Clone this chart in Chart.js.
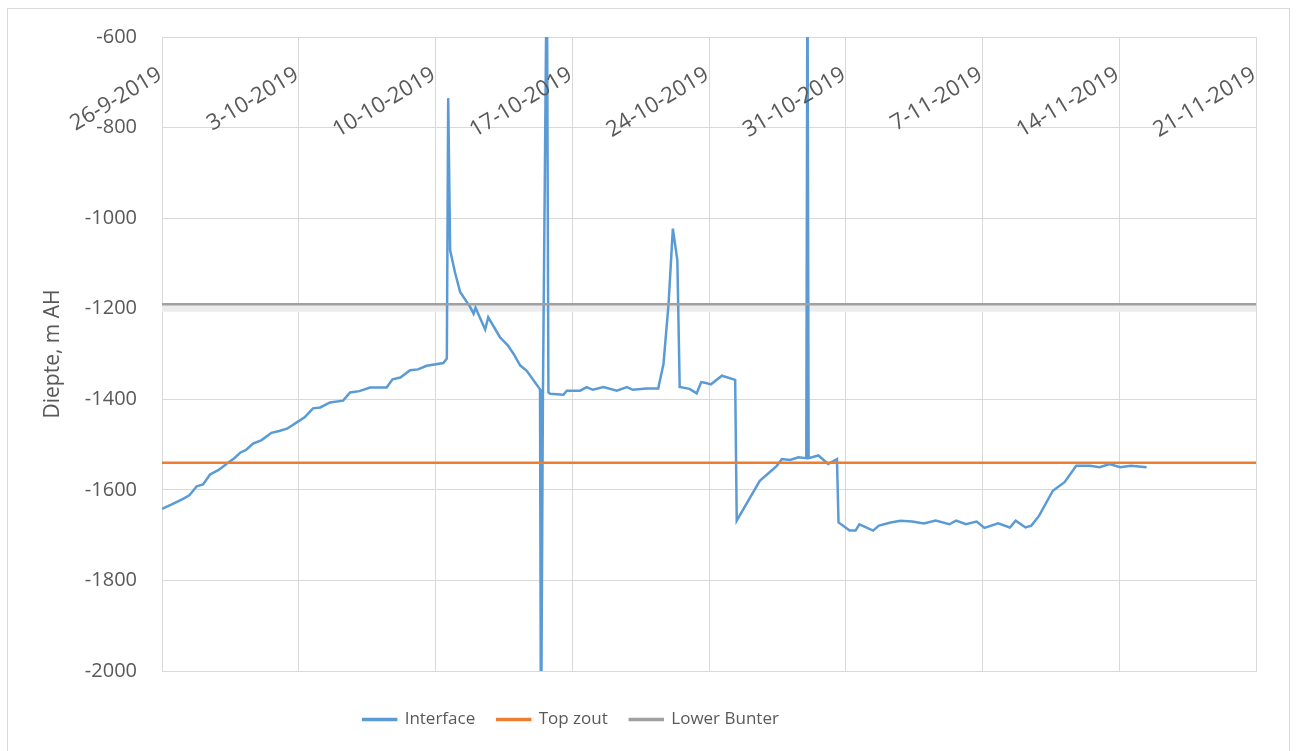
<!DOCTYPE html>
<html>
<head>
<meta charset="utf-8">
<script src="https://cdn.jsdelivr.net/npm/chart.js@4"></script>
<style>
  html, body { margin: 0; padding: 0; background: #fff; }
  #wrap { width: 1297px; height: 751px; }
</style>
</head>
<body>
<div id="wrap"><canvas id="depthChart" width="1297" height="751"></canvas></div>
<script>
// days since 26-9-2019
const intDays = [
  0, 0.5, 1.08, 1.4, 1.78, 2.1, 2.46, 2.9, 3.38, 3.7, 4.0, 4.3, 4.66, 5.1, 5.6, 6.0, 6.4, 6.9,
  7.3, 7.73, 8.1, 8.6, 9.27, 9.63, 10.1, 10.65, 11.5, 11.8, 12.2, 12.7, 13.1, 13.55, 14.4, 14.58,
  14.65, 14.75, 15.0, 15.26, 15.77, 15.95, 16.05, 16.54, 16.7, 17.3, 17.7, 18.0, 18.33, 18.67,
  19.35, 19.4, 19.5, 19.7, 19.78, 19.87, 20.55, 20.72, 21.4, 21.74, 22.05, 22.6, 23.28, 23.8,
  24.1, 24.8, 25.4, 25.67, 25.93, 26.15, 26.38, 26.5, 27.0, 27.37, 27.6, 27.85, 28.1, 28.66,
  29.34, 29.42, 30.1, 30.6, 31.0, 31.47, 31.73, 32.15, 32.58, 32.98, 33.04, 33.1, 33.6, 34.1,
  34.55, 34.63, 35.2, 35.5, 35.7, 36.4, 36.7, 37.3, 37.8, 38.4, 39.0, 39.6, 40.3, 40.65, 41.15,
  41.7, 42.1, 42.8, 43.4, 43.7, 44.2, 44.5, 44.9, 45.6, 46.2, 46.8, 47.5, 48.0, 48.5, 49.05,
  49.6, 50.4
];
const intValues = [
  -1642, -1632, -1620, -1612, -1592, -1588, -1566, -1556, -1540, -1530, -1518, -1512, -1498, -1490, -1474, -1470, -1465, -1451,
  -1440, -1420, -1418, -1407, -1403, -1385, -1382, -1374, -1374, -1356, -1352, -1336, -1334, -1326, -1320, -1310,
  -735, -1071, -1120, -1163, -1196, -1211, -1198, -1246, -1219, -1263, -1281, -1300, -1325, -1337,
  -1378, -2200, -1382, -400, -1385, -1388, -1390, -1381, -1381, -1373, -1379, -1373, -1381, -1373,
  -1379, -1376, -1376, -1322, -1189, -1023, -1093, -1373, -1377, -1387, -1362, -1364, -1367, -1348,
  -1357, -1668, -1617, -1580, -1565, -1547, -1532, -1534, -1528, -1530, -400, -1530, -1524, -1543,
  -1532, -1672, -1690, -1690, -1676, -1690, -1679, -1672, -1668, -1670, -1674, -1668, -1676, -1668, -1676,
  -1670, -1684, -1674, -1683, -1668, -1683, -1679, -1657, -1602, -1583, -1547, -1547, -1550, -1543, -1550,
  -1547, -1550
];
const topZout = -1540;
const lowerBunter = -1190;
const lowerBunterShade = -1198;

const xTickDays = [0, 7, 14, 21, 28, 35, 42, 49, 56];
const xTickLabels = ['26-9-2019', '3-10-2019', '10-10-2019', '17-10-2019', '24-10-2019',
  '31-10-2019', '7-11-2019', '14-11-2019', '21-11-2019'];

const gridColor = '#d9d9d9';
const textColor = '#595959';
const fontFamily = '"Open Sans", "DejaVu Sans", sans-serif';

// date labels hang just under the top edge of the plot, like the Excel original
const topDateLabels = {
  id: 'topDateLabels',
  afterDraw(chart) {
    const { ctx, scales: { x }, chartArea } = chart;
    ctx.save();
    ctx.font = '22px ' + fontFamily;
    ctx.fillStyle = textColor;
    ctx.textAlign = 'right';
    ctx.textBaseline = 'middle';
    xTickDays.forEach((d, i) => {
      const gx = x.getPixelForValue(d);
      ctx.save();
      ctx.translate(gx - 2, chartArea.top + 36);
      ctx.rotate(-31 * Math.PI / 180);
      ctx.fillText(xTickLabels[i], 0, 0);
      ctx.restore();
    });
    ctx.restore();
  },
};

const outerFrame = {
  id: 'outerFrame',
  beforeDraw(chart) {
    const ctx = chart.ctx;
    ctx.save();
    ctx.strokeStyle = gridColor;
    ctx.lineWidth = 1;
    ctx.strokeRect(7.5, 8.5, 1282, 745);
    ctx.restore();
  },
};

// legend in the original sits left of the canvas centre
const legendShift = {
  id: 'legendShift',
  afterLayout(chart) {
    chart.legend.left -= 57;
    chart.legend.right -= 57;
  },
};

const flat = (v) => [{ x: 0, y: v }, { x: 56, y: v }];

new Chart(document.getElementById('depthChart'), {
  type: 'line',
  data: {
    datasets: [
      {
        label: 'Interface',
        data: intDays.map((d, i) => ({ x: d, y: intValues[i] })),
        borderColor: '#5b9bd5',
        backgroundColor: '#5b9bd5',
        borderWidth: 2.5,
        pointRadius: 0,
        tension: 0,
        order: 2,
      },
      {
        label: 'Top zout',
        data: flat(topZout),
        borderColor: '#ed7d31',
        backgroundColor: '#ed7d31',
        borderWidth: 2.5,
        pointRadius: 0,
        order: 1,
      },
      {
        label: 'Lower Bunter',
        data: flat(lowerBunter),
        borderColor: '#a0a0a0',
        backgroundColor: '#a0a0a0',
        borderWidth: 2.5,
        pointRadius: 0,
        order: 1,
      },
      {
        label: 'shade',
        data: flat(lowerBunterShade),
        borderColor: '#ececec',
        backgroundColor: '#ececec',
        borderWidth: 8,
        pointRadius: 0,
        order: 3,
      },
    ],
  },
  options: {
    responsive: false,
    animation: false,
    layout: { padding: { top: 37, right: 41, left: 0, bottom: 13 } },
    scales: {
      x: {
        type: 'linear',
        min: 0,
        max: 56,
        ticks: { display: false, stepSize: 7 },
        grid: { color: gridColor, drawTicks: false },
        border: { color: gridColor },
        afterFit(scale) { scale.height = 18; },
      },
      y: {
        min: -2000,
        max: -600,
        ticks: {
          stepSize: 200,
          padding: 25,
          color: textColor,
          font: { family: fontFamily, size: 20 },
          callback: (v) => String(v),
        },
        grid: { color: gridColor, drawTicks: false },
        border: { color: gridColor },
        title: {
          display: true,
          text: 'Diepte, m AH',
          color: textColor,
          font: { family: fontFamily, size: 21 },
          padding: { top: 40, bottom: 0 },
        },
        afterFit(scale) { scale.width = 162; },
      },
    },
    plugins: {
      legend: {
        position: 'bottom',
        onClick: null,
        labels: {
          color: textColor,
          font: { family: fontFamily, size: 17 },
          boxWidth: 33,
          boxHeight: 1,
          padding: 22,
          sort: (a, b) => a.datasetIndex - b.datasetIndex,
          filter: (item) => item.text !== 'shade',
        },
      },
      tooltip: { enabled: false },
    },
  },
  plugins: [outerFrame, topDateLabels, legendShift],
});
</script>
</body>
</html>
